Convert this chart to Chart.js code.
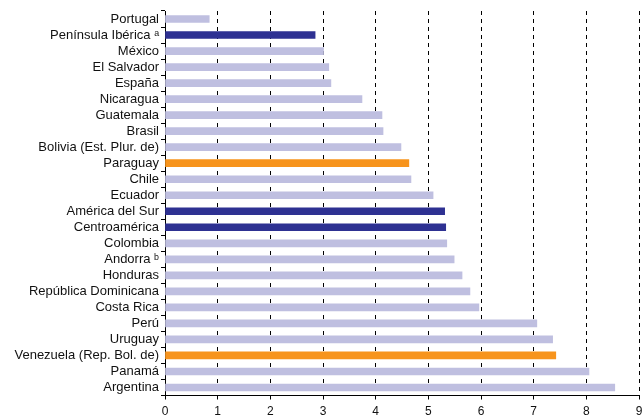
<!DOCTYPE html>
<html>
<head>
<meta charset="utf-8">
<script src="https://cdn.jsdelivr.net/npm/chart.js@4"></script>
<style>
  html, body { margin: 0; padding: 0; background: #fff; }
  #wrap { width: 642px; height: 416px; }
</style>
</head>
<body>
<div id="wrap"><canvas id="chart"></canvas></div>
<script>
// Data
const countries = [
  'Portugal', 'Península Ibérica ᵃ', 'México', 'El Salvador', 'España',
  'Nicaragua', 'Guatemala', 'Brasil', 'Bolivia (Est. Plur. de)', 'Paraguay',
  'Chile', 'Ecuador', 'América del Sur', 'Centroamérica', 'Colombia',
  'Andorra ᵇ', 'Honduras', 'República Dominicana', 'Costa Rica', 'Perú',
  'Uruguay', 'Venezuela (Rep. Bol. de)', 'Panamá', 'Argentina'
];
const values = [
  0.84, 2.85, 3.01, 3.11, 3.15,
  3.74, 4.12, 4.14, 4.48, 4.63,
  4.67, 5.09, 5.31, 5.33, 5.35,
  5.49, 5.64, 5.79, 5.96, 7.06,
  7.36, 7.42, 8.05, 8.54
];
// group of each bar: 'c' country, 'r' region, 'h' highlighted
const groups = [
  'c', 'r', 'c', 'c', 'c',
  'c', 'c', 'c', 'c', 'h',
  'c', 'c', 'r', 'r', 'c',
  'c', 'c', 'c', 'c', 'c',
  'c', 'h', 'c', 'c'
];
const xTicks = [0, 1, 2, 3, 4, 5, 6, 7, 8, 9];

const groupColors = { c: '#bfbfe0', r: '#2e3192', h: '#f7941d' };

const ctx = document.getElementById('chart');

new Chart(ctx, {
  type: 'bar',
  data: {
    labels: countries,
    datasets: [{
      data: values,
      backgroundColor: groups.map(g => groupColors[g]),
      barThickness: 7,
      borderWidth: 0
    }]
  },
  options: {
    indexAxis: 'y',
    responsive: true,
    maintainAspectRatio: false,
    animation: false,
    layout: { padding: { top: 11, right: 3, bottom: 0, left: 0 } },
    plugins: {
      legend: { display: false },
      tooltip: { enabled: false }
    },
    scales: {
      x: {
        min: 0,
        max: 9,
        afterBuildTicks: s => { s.ticks = xTicks.map(v => ({ value: v })); },
        afterFit: s => { s.paddingLeft = 0; s.paddingRight = 0; s.height = 20.5; },
        grid: {
          color: '#000',
          lineWidth: 1,
          drawTicks: true,
          tickLength: 4,
          tickBorderDash: [],
          tickColor: '#000'
        },
        border: { display: true, color: '#000', width: 1, dash: [4, 4] },
        ticks: {
          color: '#111',
          padding: 5,
          maxRotation: 0,
          font: { family: 'Liberation Sans, Arial, sans-serif', size: 12 }
        }
      },
      y: {
        afterFit: s => { s.width = 165; },
        grid: {
          drawOnChartArea: false,
          drawTicks: true,
          tickLength: 4,
          tickColor: '#000',
          offset: true
        },
        border: { display: true, color: '#000', width: 1 },
        ticks: {
          color: '#111',
          padding: 2,
          autoSkip: false,
          font: { family: 'Liberation Sans, Arial, sans-serif', size: 13 }
        }
      }
    }
  }
});
</script>
</body>
</html>
